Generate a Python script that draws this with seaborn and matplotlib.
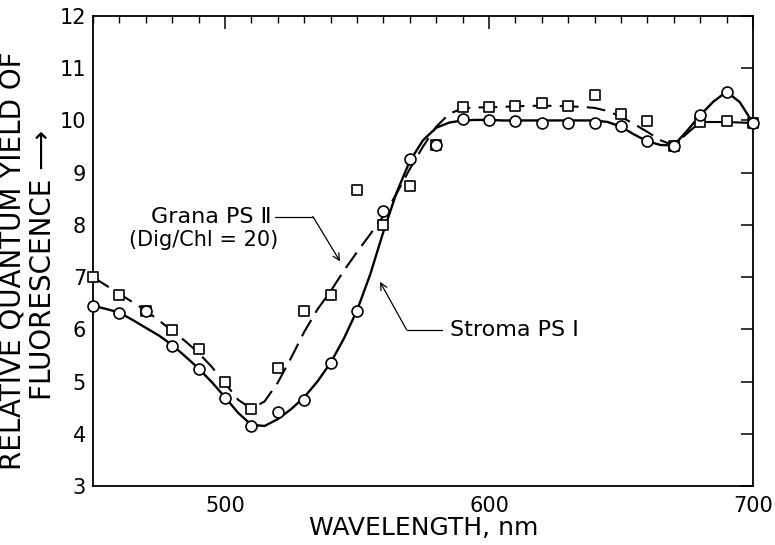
import matplotlib
matplotlib.use("Agg")
import matplotlib.pyplot as plt
import seaborn as sns
import pandas as pd
from matplotlib.ticker import FixedLocator, MultipleLocator

# ---- data ----
wavelength_pts = [450, 460, 470, 480, 490, 500, 510, 520, 530, 540, 550, 560, 570,
                  580, 590, 600, 610, 620, 630, 640, 650, 660, 670, 680, 690, 700]
grana_pts = [7.00, 6.66, 6.36, 5.98, 5.63, 5.00, 4.47, 5.25, 6.35, 6.65, 8.66, 7.99, 8.74,
             9.53, 10.25, 10.25, 10.27, 10.34, 10.27, 10.48, 10.13, 9.98, 9.51, 9.97, 9.98, 9.95]
stroma_pts = [6.45, 6.32, 6.36, 5.68, 5.24, 4.69, 4.15, 4.41, 4.65, 5.35, 6.36, 8.26, 9.26,
              9.53, 10.02, 10.00, 9.98, 9.95, 9.95, 9.95, 9.90, 9.60, 9.52, 10.11, 10.55, 9.95]

# hand-drawn smooth curves, read every 5 nm
wavelength_curve = [450, 455, 460, 465, 470, 475, 480, 485, 490, 495, 500, 505, 510, 515,
                    520, 525, 530, 535, 540, 545, 550, 555, 560, 565, 570, 575, 580, 585,
                    590, 595, 600, 605, 610, 615, 620, 625, 630, 635, 640, 645, 650, 655,
                    660, 665, 670, 675, 680, 685, 690, 695, 700]
stroma_curve = [6.45, 6.39, 6.32, 6.18, 6.03, 5.88, 5.70, 5.48, 5.25, 4.99, 4.70, 4.40, 4.17, 4.15,
                4.28, 4.47, 4.70, 5.00, 5.36, 5.82, 6.36, 7.05, 7.87, 8.62, 9.22, 9.62, 9.86, 9.96,
                10.00, 10.01, 10.01, 10.00, 10.00, 10.00, 10.00, 10.00, 10.00, 10.00, 10.00, 9.97,
                9.88, 9.73, 9.60, 9.53, 9.52, 9.80, 10.10, 10.36, 10.55, 10.35, 9.95]
grana_curve = [7.00, 6.84, 6.68, 6.52, 6.36, 6.17, 5.97, 5.77, 5.55, 5.28, 4.97, 4.65, 4.48, 4.62,
               4.98, 5.45, 5.95, 6.38, 6.73, 7.12, 7.48, 7.82, 8.17, 8.60, 9.07, 9.50, 9.88, 10.13,
               10.23, 10.25, 10.25, 10.26, 10.27, 10.28, 10.28, 10.28, 10.27, 10.26, 10.24, 10.18,
               10.07, 9.93, 9.78, 9.62, 9.52, 9.75, 9.97, 9.97, 9.97, 9.96, 9.95]

x_ticks = [500, 600, 700]
y_ticks = [3, 4, 5, 6, 7, 8, 9, 10, 11, 12]
x_label = "WAVELENGTH, nm"
y_label_1 = "RELATIVE QUANTUM YIELD OF"
y_label_2 = "FLUORESCENCE \u27f6"
grana_label_1 = "Grana PS \u2161"
grana_label_2 = "(Dig/Chl = 20)"
stroma_label = "Stroma PS \u2160"

curves = pd.DataFrame({"wavelength": wavelength_curve, "stroma": stroma_curve, "grana": grana_curve})
points = pd.DataFrame({"wavelength": wavelength_pts, "stroma": stroma_pts, "grana": grana_pts})

sns.set_style("white")
plt.rcParams["font.family"] = ["DejaVu Sans"]
plt.rcParams["text.color"] = "black"
plt.rcParams["xtick.color"] = "black"
plt.rcParams["ytick.color"] = "black"
plt.rcParams["xtick.labelcolor"] = "black"
plt.rcParams["ytick.labelcolor"] = "black"

fig = plt.figure(figsize=(7.75, 5.45), dpi=100)
ax = fig.add_axes([93 / 775, (545 - 486) / 545, (753 - 93) / 775, (486 - 16) / 545])

sns.lineplot(data=curves, x="wavelength", y="stroma", ax=ax, color="black", lw=1.7, zorder=2)
sns.lineplot(data=curves, x="wavelength", y="grana", ax=ax, color="black", lw=1.5,
             linestyle=(0, (9, 4)), zorder=2)
sns.scatterplot(data=points, x="wavelength", y="grana", ax=ax, marker="s", s=55,
                facecolor="white", edgecolor="black", linewidth=1.2, zorder=3, clip_on=False)
sns.scatterplot(data=points, x="wavelength", y="stroma", ax=ax, marker="o", s=62,
                facecolor="white", edgecolor="black", linewidth=1.2, zorder=4, clip_on=False)

ax.set_xlim(450, 700)
ax.set_ylim(3, 12)
ax.xaxis.set_major_locator(FixedLocator(x_ticks))
ax.xaxis.set_minor_locator(MultipleLocator(10))
ax.yaxis.set_major_locator(FixedLocator(y_ticks))
ax.tick_params(axis="both", which="both", direction="in", top=True, right=True, color="black")
ax.tick_params(which="major", length=9, width=1.1, labelsize=15, pad=5, labelcolor="black")
ax.tick_params(axis="x", which="major", pad=7)
ax.tick_params(which="minor", length=5, width=1.0)
ax.tick_params(axis="y", which="minor", left=False, right=False)
for sp in ax.spines.values():
    sp.set_linewidth(1.3)
    sp.set_color("black")
ax.set_xlabel("")
ax.set_ylabel("")

# annotations
fs_ann = 16
ax.text(517.8, 8.16, grana_label_1, ha="right", va="center", fontsize=fs_ann, color="black")
ax.text(520.1, 7.72, grana_label_2, ha="right", va="center", fontsize=fs_ann - 1, color="black")
ax.plot([518.9, 533.3], [8.16, 8.16], color="black", lw=0.9)
ax.annotate("", xy=(543.6, 7.30), xytext=(533.3, 8.16),
            arrowprops=dict(arrowstyle="->", color="black", lw=0.9, mutation_scale=12,
                            shrinkA=0, shrinkB=0))
ax.text(585.2, 5.99, stroma_label, ha="left", va="center", fontsize=fs_ann, color="black")
ax.plot([582.1, 568.8], [5.99, 5.99], color="black", lw=0.9)
ax.annotate("", xy=(558.7, 6.91), xytext=(568.8, 5.99),
            arrowprops=dict(arrowstyle="->", color="black", lw=0.9, mutation_scale=12,
                            shrinkA=0, shrinkB=0))

fig.text(424 / 775, (545 - 528) / 545, x_label, ha="center", va="center", fontsize=18, color="black")
fig.text(13 / 775, (545 - 261) / 545, y_label_1, ha="center", va="center", rotation=90,
         fontsize=20, color="black")
fig.text(43 / 775, (545 - 265) / 545, y_label_2, ha="center", va="center", rotation=90,
         fontsize=20, color="black")

fig.savefig("out.png", dpi=100)
